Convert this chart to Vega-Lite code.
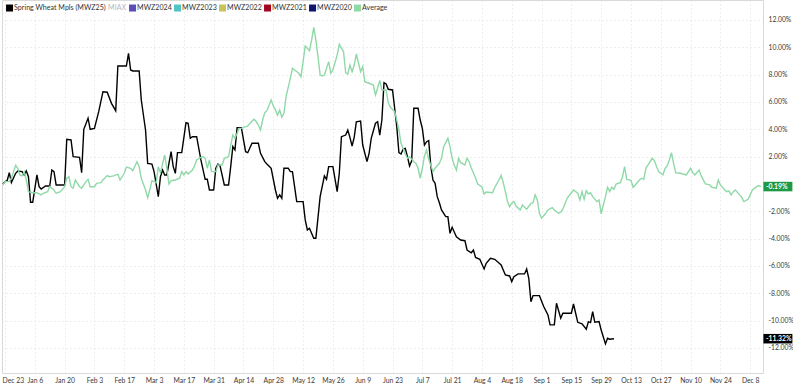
{
  "$schema": "https://vega.github.io/schema/vega-lite/v6.json",
  "width": 761,
  "height": 373,
  "padding": 0,
  "autosize": {"type": "pad"},
  "background": "white",
  "config": {
    "font": "Lato",
    "view": {"stroke": "#d9d9d9", "strokeWidth": 1},
    "axis": {"labelFont": "Lato", "labelFontSize": 6.8, "labelColor": "#3a3a3a", "gridColor": "#dcdcdc", "gridDash": [1, 3], "gridWidth": 1, "domain": false, "ticks": false, "labelOverlap": false}
  },
  "datasets": {
    "series": [
      {"series": "Spring Wheat Mpls (MWZ25)", "date": "2024-12-22", "pct": 0.00},
      {"series": "Spring Wheat Mpls (MWZ25)", "date": "2024-12-23", "pct": 0.17},
      {"series": "Spring Wheat Mpls (MWZ25)", "date": "2024-12-24", "pct": 0.24},
      {"series": "Spring Wheat Mpls (MWZ25)", "date": "2024-12-25", "pct": 0.83},
      {"series": "Spring Wheat Mpls (MWZ25)", "date": "2024-12-26", "pct": 0.10},
      {"series": "Spring Wheat Mpls (MWZ25)", "date": "2024-12-28", "pct": 0.78},
      {"series": "Spring Wheat Mpls (MWZ25)", "date": "2024-12-29", "pct": 0.95},
      {"series": "Spring Wheat Mpls (MWZ25)", "date": "2024-12-31", "pct": 0.90},
      {"series": "Spring Wheat Mpls (MWZ25)", "date": "2025-01-01", "pct": 0.66},
      {"series": "Spring Wheat Mpls (MWZ25)", "date": "2025-01-02", "pct": 0.95},
      {"series": "Spring Wheat Mpls (MWZ25)", "date": "2025-01-03", "pct": 0.53},
      {"series": "Spring Wheat Mpls (MWZ25)", "date": "2025-01-04", "pct": -1.34},
      {"series": "Spring Wheat Mpls (MWZ25)", "date": "2025-01-05", "pct": -1.34},
      {"series": "Spring Wheat Mpls (MWZ25)", "date": "2025-01-07", "pct": 0.66},
      {"series": "Spring Wheat Mpls (MWZ25)", "date": "2025-01-08", "pct": -0.20},
      {"series": "Spring Wheat Mpls (MWZ25)", "date": "2025-01-09", "pct": -0.37},
      {"series": "Spring Wheat Mpls (MWZ25)", "date": "2025-01-11", "pct": -0.15},
      {"series": "Spring Wheat Mpls (MWZ25)", "date": "2025-01-13", "pct": -0.15},
      {"series": "Spring Wheat Mpls (MWZ25)", "date": "2025-01-14", "pct": 1.02},
      {"series": "Spring Wheat Mpls (MWZ25)", "date": "2025-01-15", "pct": 0.90},
      {"series": "Spring Wheat Mpls (MWZ25)", "date": "2025-01-16", "pct": -0.07},
      {"series": "Spring Wheat Mpls (MWZ25)", "date": "2025-01-20", "pct": -0.07},
      {"series": "Spring Wheat Mpls (MWZ25)", "date": "2025-01-21", "pct": 3.27},
      {"series": "Spring Wheat Mpls (MWZ25)", "date": "2025-01-23", "pct": 3.22},
      {"series": "Spring Wheat Mpls (MWZ25)", "date": "2025-01-24", "pct": 2.00},
      {"series": "Spring Wheat Mpls (MWZ25)", "date": "2025-01-27", "pct": 1.95},
      {"series": "Spring Wheat Mpls (MWZ25)", "date": "2025-01-28", "pct": 0.83},
      {"series": "Spring Wheat Mpls (MWZ25)", "date": "2025-01-29", "pct": 4.00},
      {"series": "Spring Wheat Mpls (MWZ25)", "date": "2025-01-31", "pct": 4.81},
      {"series": "Spring Wheat Mpls (MWZ25)", "date": "2025-02-01", "pct": 4.00},
      {"series": "Spring Wheat Mpls (MWZ25)", "date": "2025-02-03", "pct": 4.07},
      {"series": "Spring Wheat Mpls (MWZ25)", "date": "2025-02-05", "pct": 5.29},
      {"series": "Spring Wheat Mpls (MWZ25)", "date": "2025-02-07", "pct": 6.75},
      {"series": "Spring Wheat Mpls (MWZ25)", "date": "2025-02-09", "pct": 6.71},
      {"series": "Spring Wheat Mpls (MWZ25)", "date": "2025-02-11", "pct": 5.90},
      {"series": "Spring Wheat Mpls (MWZ25)", "date": "2025-02-13", "pct": 5.36},
      {"series": "Spring Wheat Mpls (MWZ25)", "date": "2025-02-14", "pct": 8.63},
      {"series": "Spring Wheat Mpls (MWZ25)", "date": "2025-02-18", "pct": 8.63},
      {"series": "Spring Wheat Mpls (MWZ25)", "date": "2025-02-19", "pct": 9.55},
      {"series": "Spring Wheat Mpls (MWZ25)", "date": "2025-02-20", "pct": 8.34},
      {"series": "Spring Wheat Mpls (MWZ25)", "date": "2025-02-21", "pct": 8.27},
      {"series": "Spring Wheat Mpls (MWZ25)", "date": "2025-02-24", "pct": 8.27},
      {"series": "Spring Wheat Mpls (MWZ25)", "date": "2025-02-25", "pct": 6.14},
      {"series": "Spring Wheat Mpls (MWZ25)", "date": "2025-02-27", "pct": 3.95},
      {"series": "Spring Wheat Mpls (MWZ25)", "date": "2025-02-28", "pct": 1.51},
      {"series": "Spring Wheat Mpls (MWZ25)", "date": "2025-03-02", "pct": 1.46},
      {"series": "Spring Wheat Mpls (MWZ25)", "date": "2025-03-03", "pct": 0.90},
      {"series": "Spring Wheat Mpls (MWZ25)", "date": "2025-03-05", "pct": -0.93},
      {"series": "Spring Wheat Mpls (MWZ25)", "date": "2025-03-06", "pct": 0.53},
      {"series": "Spring Wheat Mpls (MWZ25)", "date": "2025-03-07", "pct": 1.02},
      {"series": "Spring Wheat Mpls (MWZ25)", "date": "2025-03-08", "pct": 0.66},
      {"series": "Spring Wheat Mpls (MWZ25)", "date": "2025-03-09", "pct": 0.66},
      {"series": "Spring Wheat Mpls (MWZ25)", "date": "2025-03-11", "pct": 2.36},
      {"series": "Spring Wheat Mpls (MWZ25)", "date": "2025-03-12", "pct": 1.27},
      {"series": "Spring Wheat Mpls (MWZ25)", "date": "2025-03-13", "pct": 0.78},
      {"series": "Spring Wheat Mpls (MWZ25)", "date": "2025-03-14", "pct": 2.29},
      {"series": "Spring Wheat Mpls (MWZ25)", "date": "2025-03-16", "pct": 2.29},
      {"series": "Spring Wheat Mpls (MWZ25)", "date": "2025-03-18", "pct": 4.48},
      {"series": "Spring Wheat Mpls (MWZ25)", "date": "2025-03-19", "pct": 4.44},
      {"series": "Spring Wheat Mpls (MWZ25)", "date": "2025-03-20", "pct": 3.34},
      {"series": "Spring Wheat Mpls (MWZ25)", "date": "2025-03-21", "pct": 3.46},
      {"series": "Spring Wheat Mpls (MWZ25)", "date": "2025-03-23", "pct": 3.46},
      {"series": "Spring Wheat Mpls (MWZ25)", "date": "2025-03-25", "pct": 1.76},
      {"series": "Spring Wheat Mpls (MWZ25)", "date": "2025-03-27", "pct": 0.34},
      {"series": "Spring Wheat Mpls (MWZ25)", "date": "2025-03-28", "pct": 0.34},
      {"series": "Spring Wheat Mpls (MWZ25)", "date": "2025-03-29", "pct": -0.44},
      {"series": "Spring Wheat Mpls (MWZ25)", "date": "2025-03-31", "pct": -0.44},
      {"series": "Spring Wheat Mpls (MWZ25)", "date": "2025-04-01", "pct": 1.15},
      {"series": "Spring Wheat Mpls (MWZ25)", "date": "2025-04-02", "pct": 1.46},
      {"series": "Spring Wheat Mpls (MWZ25)", "date": "2025-04-03", "pct": 1.32},
      {"series": "Spring Wheat Mpls (MWZ25)", "date": "2025-04-05", "pct": -0.07},
      {"series": "Spring Wheat Mpls (MWZ25)", "date": "2025-04-07", "pct": -0.07},
      {"series": "Spring Wheat Mpls (MWZ25)", "date": "2025-04-08", "pct": 1.27},
      {"series": "Spring Wheat Mpls (MWZ25)", "date": "2025-04-09", "pct": 2.73},
      {"series": "Spring Wheat Mpls (MWZ25)", "date": "2025-04-10", "pct": 2.49},
      {"series": "Spring Wheat Mpls (MWZ25)", "date": "2025-04-11", "pct": 4.12},
      {"series": "Spring Wheat Mpls (MWZ25)", "date": "2025-04-13", "pct": 4.12},
      {"series": "Spring Wheat Mpls (MWZ25)", "date": "2025-04-15", "pct": 2.36},
      {"series": "Spring Wheat Mpls (MWZ25)", "date": "2025-04-16", "pct": 2.29},
      {"series": "Spring Wheat Mpls (MWZ25)", "date": "2025-04-18", "pct": 2.98},
      {"series": "Spring Wheat Mpls (MWZ25)", "date": "2025-04-21", "pct": 2.98},
      {"series": "Spring Wheat Mpls (MWZ25)", "date": "2025-04-22", "pct": 2.24},
      {"series": "Spring Wheat Mpls (MWZ25)", "date": "2025-04-24", "pct": 1.63},
      {"series": "Spring Wheat Mpls (MWZ25)", "date": "2025-04-25", "pct": 1.46},
      {"series": "Spring Wheat Mpls (MWZ25)", "date": "2025-04-27", "pct": 1.15},
      {"series": "Spring Wheat Mpls (MWZ25)", "date": "2025-04-29", "pct": -0.44},
      {"series": "Spring Wheat Mpls (MWZ25)", "date": "2025-04-30", "pct": -1.05},
      {"series": "Spring Wheat Mpls (MWZ25)", "date": "2025-05-01", "pct": -0.80},
      {"series": "Spring Wheat Mpls (MWZ25)", "date": "2025-05-02", "pct": -1.05},
      {"series": "Spring Wheat Mpls (MWZ25)", "date": "2025-05-03", "pct": 1.15},
      {"series": "Spring Wheat Mpls (MWZ25)", "date": "2025-05-05", "pct": 1.15},
      {"series": "Spring Wheat Mpls (MWZ25)", "date": "2025-05-06", "pct": 0.90},
      {"series": "Spring Wheat Mpls (MWZ25)", "date": "2025-05-07", "pct": 0.90},
      {"series": "Spring Wheat Mpls (MWZ25)", "date": "2025-05-08", "pct": -0.20},
      {"series": "Spring Wheat Mpls (MWZ25)", "date": "2025-05-09", "pct": -1.29},
      {"series": "Spring Wheat Mpls (MWZ25)", "date": "2025-05-12", "pct": -1.29},
      {"series": "Spring Wheat Mpls (MWZ25)", "date": "2025-05-13", "pct": -2.63},
      {"series": "Spring Wheat Mpls (MWZ25)", "date": "2025-05-14", "pct": -3.36},
      {"series": "Spring Wheat Mpls (MWZ25)", "date": "2025-05-15", "pct": -3.24},
      {"series": "Spring Wheat Mpls (MWZ25)", "date": "2025-05-17", "pct": -3.97},
      {"series": "Spring Wheat Mpls (MWZ25)", "date": "2025-05-18", "pct": -3.97},
      {"series": "Spring Wheat Mpls (MWZ25)", "date": "2025-05-20", "pct": -0.93},
      {"series": "Spring Wheat Mpls (MWZ25)", "date": "2025-05-22", "pct": 0.59},
      {"series": "Spring Wheat Mpls (MWZ25)", "date": "2025-05-23", "pct": 0.34},
      {"series": "Spring Wheat Mpls (MWZ25)", "date": "2025-05-24", "pct": 1.27},
      {"series": "Spring Wheat Mpls (MWZ25)", "date": "2025-05-26", "pct": 1.27},
      {"series": "Spring Wheat Mpls (MWZ25)", "date": "2025-05-28", "pct": -0.56},
      {"series": "Spring Wheat Mpls (MWZ25)", "date": "2025-05-29", "pct": 0.78},
      {"series": "Spring Wheat Mpls (MWZ25)", "date": "2025-05-30", "pct": 3.46},
      {"series": "Spring Wheat Mpls (MWZ25)", "date": "2025-06-01", "pct": 3.58},
      {"series": "Spring Wheat Mpls (MWZ25)", "date": "2025-06-02", "pct": 3.95},
      {"series": "Spring Wheat Mpls (MWZ25)", "date": "2025-06-03", "pct": 3.41},
      {"series": "Spring Wheat Mpls (MWZ25)", "date": "2025-06-04", "pct": 2.78},
      {"series": "Spring Wheat Mpls (MWZ25)", "date": "2025-06-05", "pct": 3.41},
      {"series": "Spring Wheat Mpls (MWZ25)", "date": "2025-06-06", "pct": 4.55},
      {"series": "Spring Wheat Mpls (MWZ25)", "date": "2025-06-08", "pct": 4.61},
      {"series": "Spring Wheat Mpls (MWZ25)", "date": "2025-06-09", "pct": 2.85},
      {"series": "Spring Wheat Mpls (MWZ25)", "date": "2025-06-11", "pct": 1.63},
      {"series": "Spring Wheat Mpls (MWZ25)", "date": "2025-06-12", "pct": 2.24},
      {"series": "Spring Wheat Mpls (MWZ25)", "date": "2025-06-13", "pct": 3.34},
      {"series": "Spring Wheat Mpls (MWZ25)", "date": "2025-06-15", "pct": 4.44},
      {"series": "Spring Wheat Mpls (MWZ25)", "date": "2025-06-16", "pct": 4.55},
      {"series": "Spring Wheat Mpls (MWZ25)", "date": "2025-06-17", "pct": 3.58},
      {"series": "Spring Wheat Mpls (MWZ25)", "date": "2025-06-18", "pct": 4.68},
      {"series": "Spring Wheat Mpls (MWZ25)", "date": "2025-06-19", "pct": 7.41},
      {"series": "Spring Wheat Mpls (MWZ25)", "date": "2025-06-20", "pct": 7.32},
      {"series": "Spring Wheat Mpls (MWZ25)", "date": "2025-06-21", "pct": 6.93},
      {"series": "Spring Wheat Mpls (MWZ25)", "date": "2025-06-23", "pct": 6.88},
      {"series": "Spring Wheat Mpls (MWZ25)", "date": "2025-06-24", "pct": 5.54},
      {"series": "Spring Wheat Mpls (MWZ25)", "date": "2025-06-25", "pct": 4.19},
      {"series": "Spring Wheat Mpls (MWZ25)", "date": "2025-06-26", "pct": 2.29},
      {"series": "Spring Wheat Mpls (MWZ25)", "date": "2025-06-27", "pct": 2.19},
      {"series": "Spring Wheat Mpls (MWZ25)", "date": "2025-06-28", "pct": 2.56},
      {"series": "Spring Wheat Mpls (MWZ25)", "date": "2025-06-29", "pct": 2.61},
      {"series": "Spring Wheat Mpls (MWZ25)", "date": "2025-06-30", "pct": 2.00},
      {"series": "Spring Wheat Mpls (MWZ25)", "date": "2025-07-01", "pct": 1.32},
      {"series": "Spring Wheat Mpls (MWZ25)", "date": "2025-07-02", "pct": 1.70},
      {"series": "Spring Wheat Mpls (MWZ25)", "date": "2025-07-03", "pct": 5.54},
      {"series": "Spring Wheat Mpls (MWZ25)", "date": "2025-07-05", "pct": 5.54},
      {"series": "Spring Wheat Mpls (MWZ25)", "date": "2025-07-06", "pct": 4.68},
      {"series": "Spring Wheat Mpls (MWZ25)", "date": "2025-07-07", "pct": 4.07},
      {"series": "Spring Wheat Mpls (MWZ25)", "date": "2025-07-08", "pct": 2.85},
      {"series": "Spring Wheat Mpls (MWZ25)", "date": "2025-07-09", "pct": 3.09},
      {"series": "Spring Wheat Mpls (MWZ25)", "date": "2025-07-10", "pct": 3.17},
      {"series": "Spring Wheat Mpls (MWZ25)", "date": "2025-07-11", "pct": 1.27},
      {"series": "Spring Wheat Mpls (MWZ25)", "date": "2025-07-12", "pct": 0.29},
      {"series": "Spring Wheat Mpls (MWZ25)", "date": "2025-07-13", "pct": 0.05},
      {"series": "Spring Wheat Mpls (MWZ25)", "date": "2025-07-14", "pct": -0.93},
      {"series": "Spring Wheat Mpls (MWZ25)", "date": "2025-07-15", "pct": -1.37},
      {"series": "Spring Wheat Mpls (MWZ25)", "date": "2025-07-16", "pct": -1.90},
      {"series": "Spring Wheat Mpls (MWZ25)", "date": "2025-07-18", "pct": -2.39},
      {"series": "Spring Wheat Mpls (MWZ25)", "date": "2025-07-19", "pct": -2.39},
      {"series": "Spring Wheat Mpls (MWZ25)", "date": "2025-07-20", "pct": -3.61},
      {"series": "Spring Wheat Mpls (MWZ25)", "date": "2025-07-21", "pct": -3.17},
      {"series": "Spring Wheat Mpls (MWZ25)", "date": "2025-07-23", "pct": -3.86},
      {"series": "Spring Wheat Mpls (MWZ25)", "date": "2025-07-25", "pct": -4.10},
      {"series": "Spring Wheat Mpls (MWZ25)", "date": "2025-07-27", "pct": -4.15},
      {"series": "Spring Wheat Mpls (MWZ25)", "date": "2025-07-28", "pct": -4.83},
      {"series": "Spring Wheat Mpls (MWZ25)", "date": "2025-07-30", "pct": -5.03},
      {"series": "Spring Wheat Mpls (MWZ25)", "date": "2025-07-31", "pct": -4.83},
      {"series": "Spring Wheat Mpls (MWZ25)", "date": "2025-08-01", "pct": -5.38},
      {"series": "Spring Wheat Mpls (MWZ25)", "date": "2025-08-03", "pct": -5.51},
      {"series": "Spring Wheat Mpls (MWZ25)", "date": "2025-08-05", "pct": -6.22},
      {"series": "Spring Wheat Mpls (MWZ25)", "date": "2025-08-06", "pct": -5.80},
      {"series": "Spring Wheat Mpls (MWZ25)", "date": "2025-08-08", "pct": -5.44},
      {"series": "Spring Wheat Mpls (MWZ25)", "date": "2025-08-10", "pct": -5.51},
      {"series": "Spring Wheat Mpls (MWZ25)", "date": "2025-08-12", "pct": -5.78},
      {"series": "Spring Wheat Mpls (MWZ25)", "date": "2025-08-13", "pct": -5.92},
      {"series": "Spring Wheat Mpls (MWZ25)", "date": "2025-08-15", "pct": -6.66},
      {"series": "Spring Wheat Mpls (MWZ25)", "date": "2025-08-17", "pct": -6.73},
      {"series": "Spring Wheat Mpls (MWZ25)", "date": "2025-08-18", "pct": -7.14},
      {"series": "Spring Wheat Mpls (MWZ25)", "date": "2025-08-19", "pct": -6.78},
      {"series": "Spring Wheat Mpls (MWZ25)", "date": "2025-08-21", "pct": -6.58},
      {"series": "Spring Wheat Mpls (MWZ25)", "date": "2025-08-24", "pct": -6.58},
      {"series": "Spring Wheat Mpls (MWZ25)", "date": "2025-08-25", "pct": -6.22},
      {"series": "Spring Wheat Mpls (MWZ25)", "date": "2025-08-26", "pct": -6.90},
      {"series": "Spring Wheat Mpls (MWZ25)", "date": "2025-08-27", "pct": -8.61},
      {"series": "Spring Wheat Mpls (MWZ25)", "date": "2025-08-28", "pct": -8.17},
      {"series": "Spring Wheat Mpls (MWZ25)", "date": "2025-08-31", "pct": -8.17},
      {"series": "Spring Wheat Mpls (MWZ25)", "date": "2025-09-02", "pct": -8.97},
      {"series": "Spring Wheat Mpls (MWZ25)", "date": "2025-09-04", "pct": -9.58},
      {"series": "Spring Wheat Mpls (MWZ25)", "date": "2025-09-05", "pct": -10.31},
      {"series": "Spring Wheat Mpls (MWZ25)", "date": "2025-09-07", "pct": -10.31},
      {"series": "Spring Wheat Mpls (MWZ25)", "date": "2025-09-08", "pct": -8.73},
      {"series": "Spring Wheat Mpls (MWZ25)", "date": "2025-09-10", "pct": -9.82},
      {"series": "Spring Wheat Mpls (MWZ25)", "date": "2025-09-11", "pct": -9.46},
      {"series": "Spring Wheat Mpls (MWZ25)", "date": "2025-09-15", "pct": -9.46},
      {"series": "Spring Wheat Mpls (MWZ25)", "date": "2025-09-16", "pct": -8.78},
      {"series": "Spring Wheat Mpls (MWZ25)", "date": "2025-09-17", "pct": -9.46},
      {"series": "Spring Wheat Mpls (MWZ25)", "date": "2025-09-18", "pct": -10.12},
      {"series": "Spring Wheat Mpls (MWZ25)", "date": "2025-09-20", "pct": -10.24},
      {"series": "Spring Wheat Mpls (MWZ25)", "date": "2025-09-22", "pct": -10.63},
      {"series": "Spring Wheat Mpls (MWZ25)", "date": "2025-09-23", "pct": -10.07},
      {"series": "Spring Wheat Mpls (MWZ25)", "date": "2025-09-24", "pct": -10.14},
      {"series": "Spring Wheat Mpls (MWZ25)", "date": "2025-09-25", "pct": -9.34},
      {"series": "Spring Wheat Mpls (MWZ25)", "date": "2025-09-26", "pct": -10.12},
      {"series": "Spring Wheat Mpls (MWZ25)", "date": "2025-09-28", "pct": -10.07},
      {"series": "Spring Wheat Mpls (MWZ25)", "date": "2025-09-29", "pct": -10.68},
      {"series": "Spring Wheat Mpls (MWZ25)", "date": "2025-10-01", "pct": -11.70},
      {"series": "Spring Wheat Mpls (MWZ25)", "date": "2025-10-02", "pct": -11.29},
      {"series": "Spring Wheat Mpls (MWZ25)", "date": "2025-10-03", "pct": -11.36},
      {"series": "Spring Wheat Mpls (MWZ25)", "date": "2025-10-05", "pct": -11.32},
      {"series": "Average", "date": "2024-12-22", "pct": -0.07},
      {"series": "Average", "date": "2024-12-23", "pct": 0.17},
      {"series": "Average", "date": "2024-12-25", "pct": 0.17},
      {"series": "Average", "date": "2024-12-26", "pct": 0.42},
      {"series": "Average", "date": "2024-12-28", "pct": 1.37},
      {"series": "Average", "date": "2024-12-29", "pct": 1.15},
      {"series": "Average", "date": "2024-12-30", "pct": 0.66},
      {"series": "Average", "date": "2024-12-31", "pct": 0.59},
      {"series": "Average", "date": "2025-01-01", "pct": 0.90},
      {"series": "Average", "date": "2025-01-02", "pct": 0.29},
      {"series": "Average", "date": "2025-01-03", "pct": -0.56},
      {"series": "Average", "date": "2025-01-05", "pct": -0.64},
      {"series": "Average", "date": "2025-01-07", "pct": -0.64},
      {"series": "Average", "date": "2025-01-09", "pct": -0.80},
      {"series": "Average", "date": "2025-01-10", "pct": -0.68},
      {"series": "Average", "date": "2025-01-12", "pct": -0.56},
      {"series": "Average", "date": "2025-01-13", "pct": -0.20},
      {"series": "Average", "date": "2025-01-15", "pct": -0.44},
      {"series": "Average", "date": "2025-01-16", "pct": -0.68},
      {"series": "Average", "date": "2025-01-18", "pct": -0.56},
      {"series": "Average", "date": "2025-01-20", "pct": -0.20},
      {"series": "Average", "date": "2025-01-21", "pct": 0.42},
      {"series": "Average", "date": "2025-01-22", "pct": 0.53},
      {"series": "Average", "date": "2025-01-23", "pct": -0.20},
      {"series": "Average", "date": "2025-01-24", "pct": -0.31},
      {"series": "Average", "date": "2025-01-25", "pct": 0.29},
      {"series": "Average", "date": "2025-01-27", "pct": -0.20},
      {"series": "Average", "date": "2025-01-28", "pct": -0.31},
      {"series": "Average", "date": "2025-01-30", "pct": 0.17},
      {"series": "Average", "date": "2025-01-31", "pct": 0.34},
      {"series": "Average", "date": "2025-02-01", "pct": -0.20},
      {"series": "Average", "date": "2025-02-03", "pct": -0.20},
      {"series": "Average", "date": "2025-02-04", "pct": 0.05},
      {"series": "Average", "date": "2025-02-06", "pct": 0.10},
      {"series": "Average", "date": "2025-02-07", "pct": 0.29},
      {"series": "Average", "date": "2025-02-09", "pct": 0.61},
      {"series": "Average", "date": "2025-02-10", "pct": 0.53},
      {"series": "Average", "date": "2025-02-12", "pct": 0.59},
      {"series": "Average", "date": "2025-02-13", "pct": 0.66},
      {"series": "Average", "date": "2025-02-14", "pct": 0.71},
      {"series": "Average", "date": "2025-02-15", "pct": 0.29},
      {"series": "Average", "date": "2025-02-17", "pct": 0.78},
      {"series": "Average", "date": "2025-02-18", "pct": 1.24},
      {"series": "Average", "date": "2025-02-20", "pct": 1.15},
      {"series": "Average", "date": "2025-02-21", "pct": 0.97},
      {"series": "Average", "date": "2025-02-23", "pct": 1.63},
      {"series": "Average", "date": "2025-02-24", "pct": 1.27},
      {"series": "Average", "date": "2025-02-25", "pct": 0.42},
      {"series": "Average", "date": "2025-02-27", "pct": -0.44},
      {"series": "Average", "date": "2025-02-28", "pct": -1.00},
      {"series": "Average", "date": "2025-03-01", "pct": -0.44},
      {"series": "Average", "date": "2025-03-02", "pct": 0.24},
      {"series": "Average", "date": "2025-03-04", "pct": 0.10},
      {"series": "Average", "date": "2025-03-05", "pct": 1.27},
      {"series": "Average", "date": "2025-03-06", "pct": 0.83},
      {"series": "Average", "date": "2025-03-08", "pct": 2.12},
      {"series": "Average", "date": "2025-03-09", "pct": 1.15},
      {"series": "Average", "date": "2025-03-10", "pct": 0.00},
      {"series": "Average", "date": "2025-03-11", "pct": 0.24},
      {"series": "Average", "date": "2025-03-13", "pct": 0.29},
      {"series": "Average", "date": "2025-03-15", "pct": 0.42},
      {"series": "Average", "date": "2025-03-16", "pct": 0.90},
      {"series": "Average", "date": "2025-03-17", "pct": 0.66},
      {"series": "Average", "date": "2025-03-18", "pct": 0.90},
      {"series": "Average", "date": "2025-03-19", "pct": 0.73},
      {"series": "Average", "date": "2025-03-21", "pct": 1.02},
      {"series": "Average", "date": "2025-03-22", "pct": 1.32},
      {"series": "Average", "date": "2025-03-23", "pct": 1.76},
      {"series": "Average", "date": "2025-03-25", "pct": 1.95},
      {"series": "Average", "date": "2025-03-26", "pct": 2.00},
      {"series": "Average", "date": "2025-03-27", "pct": 1.88},
      {"series": "Average", "date": "2025-03-28", "pct": 1.15},
      {"series": "Average", "date": "2025-03-29", "pct": 1.76},
      {"series": "Average", "date": "2025-03-30", "pct": 0.90},
      {"series": "Average", "date": "2025-04-01", "pct": 0.90},
      {"series": "Average", "date": "2025-04-02", "pct": 1.39},
      {"series": "Average", "date": "2025-04-04", "pct": 1.39},
      {"series": "Average", "date": "2025-04-05", "pct": 1.88},
      {"series": "Average", "date": "2025-04-07", "pct": 2.00},
      {"series": "Average", "date": "2025-04-08", "pct": 2.85},
      {"series": "Average", "date": "2025-04-09", "pct": 3.58},
      {"series": "Average", "date": "2025-04-10", "pct": 3.34},
      {"series": "Average", "date": "2025-04-12", "pct": 4.07},
      {"series": "Average", "date": "2025-04-13", "pct": 4.07},
      {"series": "Average", "date": "2025-04-15", "pct": 4.19},
      {"series": "Average", "date": "2025-04-16", "pct": 4.24},
      {"series": "Average", "date": "2025-04-18", "pct": 4.61},
      {"series": "Average", "date": "2025-04-19", "pct": 4.73},
      {"series": "Average", "date": "2025-04-20", "pct": 4.55},
      {"series": "Average", "date": "2025-04-21", "pct": 4.31},
      {"series": "Average", "date": "2025-04-22", "pct": 3.95},
      {"series": "Average", "date": "2025-04-23", "pct": 4.68},
      {"series": "Average", "date": "2025-04-24", "pct": 5.22},
      {"series": "Average", "date": "2025-04-25", "pct": 5.36},
      {"series": "Average", "date": "2025-04-27", "pct": 6.14},
      {"series": "Average", "date": "2025-04-28", "pct": 5.71},
      {"series": "Average", "date": "2025-04-29", "pct": 5.41},
      {"series": "Average", "date": "2025-04-30", "pct": 5.04},
      {"series": "Average", "date": "2025-05-01", "pct": 5.41},
      {"series": "Average", "date": "2025-05-02", "pct": 4.88},
      {"series": "Average", "date": "2025-05-03", "pct": 5.17},
      {"series": "Average", "date": "2025-05-04", "pct": 6.39},
      {"series": "Average", "date": "2025-05-06", "pct": 7.73},
      {"series": "Average", "date": "2025-05-07", "pct": 8.46},
      {"series": "Average", "date": "2025-05-08", "pct": 8.34},
      {"series": "Average", "date": "2025-05-10", "pct": 8.10},
      {"series": "Average", "date": "2025-05-11", "pct": 7.85},
      {"series": "Average", "date": "2025-05-12", "pct": 8.95},
      {"series": "Average", "date": "2025-05-13", "pct": 10.09},
      {"series": "Average", "date": "2025-05-14", "pct": 9.93},
      {"series": "Average", "date": "2025-05-15", "pct": 9.75},
      {"series": "Average", "date": "2025-05-16", "pct": 10.53},
      {"series": "Average", "date": "2025-05-17", "pct": 11.46},
      {"series": "Average", "date": "2025-05-18", "pct": 10.53},
      {"series": "Average", "date": "2025-05-19", "pct": 9.31},
      {"series": "Average", "date": "2025-05-20", "pct": 7.97},
      {"series": "Average", "date": "2025-05-21", "pct": 7.90},
      {"series": "Average", "date": "2025-05-22", "pct": 7.97},
      {"series": "Average", "date": "2025-05-24", "pct": 8.95},
      {"series": "Average", "date": "2025-05-25", "pct": 8.10},
      {"series": "Average", "date": "2025-05-26", "pct": 8.34},
      {"series": "Average", "date": "2025-05-28", "pct": 9.43},
      {"series": "Average", "date": "2025-05-29", "pct": 10.22},
      {"series": "Average", "date": "2025-05-31", "pct": 9.67},
      {"series": "Average", "date": "2025-06-01", "pct": 8.14},
      {"series": "Average", "date": "2025-06-02", "pct": 8.04},
      {"series": "Average", "date": "2025-06-03", "pct": 8.70},
      {"series": "Average", "date": "2025-06-04", "pct": 8.21},
      {"series": "Average", "date": "2025-06-05", "pct": 8.70},
      {"series": "Average", "date": "2025-06-06", "pct": 9.51},
      {"series": "Average", "date": "2025-06-08", "pct": 8.21},
      {"series": "Average", "date": "2025-06-09", "pct": 8.58},
      {"series": "Average", "date": "2025-06-10", "pct": 7.48},
      {"series": "Average", "date": "2025-06-12", "pct": 7.37},
      {"series": "Average", "date": "2025-06-14", "pct": 7.24},
      {"series": "Average", "date": "2025-06-15", "pct": 6.51},
      {"series": "Average", "date": "2025-06-16", "pct": 7.02},
      {"series": "Average", "date": "2025-06-17", "pct": 7.57},
      {"series": "Average", "date": "2025-06-18", "pct": 6.88},
      {"series": "Average", "date": "2025-06-20", "pct": 6.88},
      {"series": "Average", "date": "2025-06-21", "pct": 5.95},
      {"series": "Average", "date": "2025-06-22", "pct": 5.61},
      {"series": "Average", "date": "2025-06-24", "pct": 5.29},
      {"series": "Average", "date": "2025-06-25", "pct": 4.68},
      {"series": "Average", "date": "2025-06-26", "pct": 3.95},
      {"series": "Average", "date": "2025-06-27", "pct": 2.98},
      {"series": "Average", "date": "2025-06-29", "pct": 2.19},
      {"series": "Average", "date": "2025-06-30", "pct": 1.88},
      {"series": "Average", "date": "2025-07-01", "pct": 2.00},
      {"series": "Average", "date": "2025-07-03", "pct": 1.63},
      {"series": "Average", "date": "2025-07-04", "pct": 1.51},
      {"series": "Average", "date": "2025-07-05", "pct": 1.15},
      {"series": "Average", "date": "2025-07-06", "pct": 0.42},
      {"series": "Average", "date": "2025-07-07", "pct": 1.15},
      {"series": "Average", "date": "2025-07-08", "pct": 2.05},
      {"series": "Average", "date": "2025-07-09", "pct": 2.49},
      {"series": "Average", "date": "2025-07-10", "pct": 1.81},
      {"series": "Average", "date": "2025-07-12", "pct": 0.90},
      {"series": "Average", "date": "2025-07-13", "pct": 1.15},
      {"series": "Average", "date": "2025-07-15", "pct": 1.51},
      {"series": "Average", "date": "2025-07-16", "pct": 1.88},
      {"series": "Average", "date": "2025-07-17", "pct": 2.73},
      {"series": "Average", "date": "2025-07-19", "pct": 3.34},
      {"series": "Average", "date": "2025-07-20", "pct": 2.73},
      {"series": "Average", "date": "2025-07-21", "pct": 1.88},
      {"series": "Average", "date": "2025-07-22", "pct": 1.39},
      {"series": "Average", "date": "2025-07-23", "pct": 1.02},
      {"series": "Average", "date": "2025-07-24", "pct": 1.88},
      {"series": "Average", "date": "2025-07-25", "pct": 1.56},
      {"series": "Average", "date": "2025-07-27", "pct": 1.39},
      {"series": "Average", "date": "2025-07-28", "pct": 1.88},
      {"series": "Average", "date": "2025-07-29", "pct": 1.63},
      {"series": "Average", "date": "2025-07-30", "pct": 1.17},
      {"series": "Average", "date": "2025-08-01", "pct": 0.44},
      {"series": "Average", "date": "2025-08-02", "pct": 0.00},
      {"series": "Average", "date": "2025-08-04", "pct": -0.22},
      {"series": "Average", "date": "2025-08-05", "pct": -0.73},
      {"series": "Average", "date": "2025-08-06", "pct": -0.59},
      {"series": "Average", "date": "2025-08-09", "pct": -0.64},
      {"series": "Average", "date": "2025-08-10", "pct": -0.26},
      {"series": "Average", "date": "2025-08-12", "pct": 0.29},
      {"series": "Average", "date": "2025-08-13", "pct": 0.62},
      {"series": "Average", "date": "2025-08-14", "pct": 0.11},
      {"series": "Average", "date": "2025-08-15", "pct": -0.56},
      {"series": "Average", "date": "2025-08-16", "pct": -1.29},
      {"series": "Average", "date": "2025-08-17", "pct": -1.66},
      {"series": "Average", "date": "2025-08-18", "pct": -1.41},
      {"series": "Average", "date": "2025-08-19", "pct": -1.29},
      {"series": "Average", "date": "2025-08-20", "pct": -1.61},
      {"series": "Average", "date": "2025-08-22", "pct": -1.90},
      {"series": "Average", "date": "2025-08-23", "pct": -1.54},
      {"series": "Average", "date": "2025-08-24", "pct": -1.70},
      {"series": "Average", "date": "2025-08-25", "pct": -1.85},
      {"series": "Average", "date": "2025-08-27", "pct": -1.41},
      {"series": "Average", "date": "2025-08-28", "pct": -1.37},
      {"series": "Average", "date": "2025-08-29", "pct": -0.80},
      {"series": "Average", "date": "2025-08-30", "pct": -1.17},
      {"series": "Average", "date": "2025-08-31", "pct": -2.14},
      {"series": "Average", "date": "2025-09-01", "pct": -2.51},
      {"series": "Average", "date": "2025-09-03", "pct": -2.14},
      {"series": "Average", "date": "2025-09-04", "pct": -1.90},
      {"series": "Average", "date": "2025-09-06", "pct": -1.73},
      {"series": "Average", "date": "2025-09-07", "pct": -1.90},
      {"series": "Average", "date": "2025-09-09", "pct": -2.14},
      {"series": "Average", "date": "2025-09-10", "pct": -2.07},
      {"series": "Average", "date": "2025-09-11", "pct": -1.85},
      {"series": "Average", "date": "2025-09-13", "pct": -1.05},
      {"series": "Average", "date": "2025-09-15", "pct": -0.64},
      {"series": "Average", "date": "2025-09-16", "pct": -0.44},
      {"series": "Average", "date": "2025-09-18", "pct": -0.68},
      {"series": "Average", "date": "2025-09-19", "pct": -1.17},
      {"series": "Average", "date": "2025-09-20", "pct": -0.56},
      {"series": "Average", "date": "2025-09-21", "pct": -1.12},
      {"series": "Average", "date": "2025-09-22", "pct": -0.49},
      {"series": "Average", "date": "2025-09-23", "pct": -0.73},
      {"series": "Average", "date": "2025-09-24", "pct": -0.64},
      {"series": "Average", "date": "2025-09-25", "pct": -0.93},
      {"series": "Average", "date": "2025-09-27", "pct": -1.29},
      {"series": "Average", "date": "2025-09-28", "pct": -1.17},
      {"series": "Average", "date": "2025-09-29", "pct": -2.19},
      {"series": "Average", "date": "2025-09-30", "pct": -1.54},
      {"series": "Average", "date": "2025-10-01", "pct": -0.93},
      {"series": "Average", "date": "2025-10-02", "pct": -0.24},
      {"series": "Average", "date": "2025-10-03", "pct": -0.56},
      {"series": "Average", "date": "2025-10-04", "pct": -0.24},
      {"series": "Average", "date": "2025-10-05", "pct": -0.39},
      {"series": "Average", "date": "2025-10-06", "pct": 0.00},
      {"series": "Average", "date": "2025-10-08", "pct": 0.10},
      {"series": "Average", "date": "2025-10-09", "pct": 0.53},
      {"series": "Average", "date": "2025-10-10", "pct": 1.27},
      {"series": "Average", "date": "2025-10-11", "pct": 0.34},
      {"series": "Average", "date": "2025-10-13", "pct": 0.27},
      {"series": "Average", "date": "2025-10-14", "pct": -0.24},
      {"series": "Average", "date": "2025-10-15", "pct": -0.07},
      {"series": "Average", "date": "2025-10-17", "pct": 0.29},
      {"series": "Average", "date": "2025-10-18", "pct": 0.42},
      {"series": "Average", "date": "2025-10-19", "pct": 0.34},
      {"series": "Average", "date": "2025-10-20", "pct": 1.15},
      {"series": "Average", "date": "2025-10-21", "pct": 1.39},
      {"series": "Average", "date": "2025-10-23", "pct": 1.88},
      {"series": "Average", "date": "2025-10-24", "pct": 1.70},
      {"series": "Average", "date": "2025-10-25", "pct": 1.27},
      {"series": "Average", "date": "2025-10-26", "pct": 0.90},
      {"series": "Average", "date": "2025-10-28", "pct": 0.66},
      {"series": "Average", "date": "2025-10-29", "pct": 1.15},
      {"series": "Average", "date": "2025-10-30", "pct": 1.32},
      {"series": "Average", "date": "2025-10-31", "pct": 1.76},
      {"series": "Average", "date": "2025-11-01", "pct": 2.29},
      {"series": "Average", "date": "2025-11-02", "pct": 1.51},
      {"series": "Average", "date": "2025-11-03", "pct": 0.83},
      {"series": "Average", "date": "2025-11-05", "pct": 0.78},
      {"series": "Average", "date": "2025-11-08", "pct": 0.66},
      {"series": "Average", "date": "2025-11-10", "pct": 1.15},
      {"series": "Average", "date": "2025-11-11", "pct": 0.83},
      {"series": "Average", "date": "2025-11-12", "pct": 0.66},
      {"series": "Average", "date": "2025-11-14", "pct": 1.02},
      {"series": "Average", "date": "2025-11-15", "pct": 0.59},
      {"series": "Average", "date": "2025-11-17", "pct": 0.00},
      {"series": "Average", "date": "2025-11-19", "pct": -0.07},
      {"series": "Average", "date": "2025-11-20", "pct": -0.24},
      {"series": "Average", "date": "2025-11-22", "pct": -0.31},
      {"series": "Average", "date": "2025-11-23", "pct": 0.29},
      {"series": "Average", "date": "2025-11-24", "pct": -0.07},
      {"series": "Average", "date": "2025-11-26", "pct": -0.44},
      {"series": "Average", "date": "2025-11-27", "pct": -0.56},
      {"series": "Average", "date": "2025-11-28", "pct": -0.51},
      {"series": "Average", "date": "2025-11-29", "pct": -0.80},
      {"series": "Average", "date": "2025-11-30", "pct": -0.56},
      {"series": "Average", "date": "2025-12-01", "pct": -0.44},
      {"series": "Average", "date": "2025-12-03", "pct": -0.80},
      {"series": "Average", "date": "2025-12-04", "pct": -0.97},
      {"series": "Average", "date": "2025-12-05", "pct": -1.29},
      {"series": "Average", "date": "2025-12-07", "pct": -1.12},
      {"series": "Average", "date": "2025-12-08", "pct": -0.80},
      {"series": "Average", "date": "2025-12-09", "pct": -0.44},
      {"series": "Average", "date": "2025-12-11", "pct": -0.20},
      {"series": "Average", "date": "2025-12-12", "pct": -0.12},
      {"series": "Average", "date": "2025-12-13", "pct": -0.19}
    ],
    "ends": [
      {"series": "Average", "pct": -0.19, "label": "-0.19%"},
      {"series": "Spring Wheat Mpls (MWZ25)", "pct": -11.32, "label": "-11.32%"}
    ]
  },
  "layer": [
    {
      "data": {"name": "series"},
      "mark": {"type": "line", "strokeWidth": 1.4},
      "encoding": {
        "x": {
          "field": "date", "type": "temporal",
          "scale": {"type": "utc", "domain": [{"year": 2024, "month": 12, "date": 21, "hours": 14, "utc": true}, {"year": 2025, "month": 12, "date": 14, "hours": 0, "utc": true}]},
          "axis": {
            "title": null, "format": "%b %-d", "labelPadding": 4, "labelFlush": 6, "labelFlushOffset": 3, "labelOverlap": false, "tickCount": 40,
            "values": [
              {"year": 2024, "month": 12, "date": 23, "utc": true},
              {"year": 2025, "month": 1, "date": 6, "utc": true},
              {"year": 2025, "month": 1, "date": 20, "utc": true},
              {"year": 2025, "month": 2, "date": 3, "utc": true},
              {"year": 2025, "month": 2, "date": 17, "utc": true},
              {"year": 2025, "month": 3, "date": 3, "utc": true},
              {"year": 2025, "month": 3, "date": 17, "utc": true},
              {"year": 2025, "month": 3, "date": 31, "utc": true},
              {"year": 2025, "month": 4, "date": 14, "utc": true},
              {"year": 2025, "month": 4, "date": 28, "utc": true},
              {"year": 2025, "month": 5, "date": 12, "utc": true},
              {"year": 2025, "month": 5, "date": 26, "utc": true},
              {"year": 2025, "month": 6, "date": 9, "utc": true},
              {"year": 2025, "month": 6, "date": 23, "utc": true},
              {"year": 2025, "month": 7, "date": 7, "utc": true},
              {"year": 2025, "month": 7, "date": 21, "utc": true},
              {"year": 2025, "month": 8, "date": 4, "utc": true},
              {"year": 2025, "month": 8, "date": 18, "utc": true},
              {"year": 2025, "month": 9, "date": 1, "utc": true},
              {"year": 2025, "month": 9, "date": 15, "utc": true},
              {"year": 2025, "month": 9, "date": 29, "utc": true},
              {"year": 2025, "month": 10, "date": 13, "utc": true},
              {"year": 2025, "month": 10, "date": 27, "utc": true},
              {"year": 2025, "month": 11, "date": 10, "utc": true},
              {"year": 2025, "month": 11, "date": 24, "utc": true},
              {"year": 2025, "month": 12, "date": 8, "utc": true}
            ]
          }
        },
        "y": {
          "field": "pct", "type": "quantitative",
          "scale": {"domain": [-13.83, 13.46], "nice": false, "zero": false},
          "axis": {
            "orient": "right", "title": null, "labelPadding": 5, "labelOverlap": false, "labelBound": false, "tickCount": 30,
            "values": [-12, -10, -8, -6, -4, -2, 2, 4, 6, 8, 10, 12],
            "labelExpr": "(datum.value < 0 ? '-' : '') + format(abs(datum.value), '.2f') + '%'"
          }
        },
        "color": {
          "field": "series", "type": "nominal",
          "scale": {
            "domain": ["Spring Wheat Mpls (MWZ25)", "MIAX", "MWZ2024", "MWZ2023", "MWZ2022", "MWZ2021", "MWZ2020", "Average"],
            "range": ["#000000", "rgba(0,0,0,0)", "#5b4cb8", "#4fc4c2", "#c9c35c", "#a3061f", "#11136e", "#8fd9a8"]
          },
          "legend": {
            "title": null, "orient": "top-left", "offset": 4, "direction": "horizontal", "columns": 8,
            "symbolType": "square", "symbolSize": 49, "symbolStrokeWidth": 0,
            "labelFontSize": 7.1, "labelFont": "Lato", "labelColor": "#333333", "labelOffset": 1,
            "columnPadding": 2, "padding": 0,
            "encode": {
              "symbols": {"update": {"fill": {"scale": "color", "field": "value"}, "strokeWidth": {"value": 0}, "opacity": {"value": 1}}},
              "labels": {"update": {"fill": {"signal": "datum.label === 'MIAX' ? '#b8b8b8' : '#333333'"}, "dx": {"signal": "datum.label === 'MIAX' ? -8 : 0"}}}
            }
          }
        }
      }
    },
    {
      "data": {"name": "ends"},
      "mark": {"type": "point", "shape": "M0.03,-0.34L2.1,-0.34L2.1,0.34L0.03,0.34Z", "filled": true, "size": 784, "opacity": 1, "strokeWidth": 0},
      "encoding": {
        "x": {"value": "width"},
        "y": {"field": "pct", "type": "quantitative"},
        "fill": {"field": "series", "type": "nominal", "scale": {"domain": ["Average", "Spring Wheat Mpls (MWZ25)"], "range": ["#1e9a46", "#000000"]}, "legend": null}
      }
    },
    {
      "data": {"name": "ends"},
      "mark": {"type": "text", "align": "left", "baseline": "middle", "dx": 3, "fontSize": 6.8, "fontWeight": "bold", "font": "Lato", "color": "#ffffff"},
      "encoding": {
        "x": {"value": "width"},
        "y": {"field": "pct", "type": "quantitative"},
        "text": {"field": "label", "type": "nominal"}
      }
    }
  ]
}
